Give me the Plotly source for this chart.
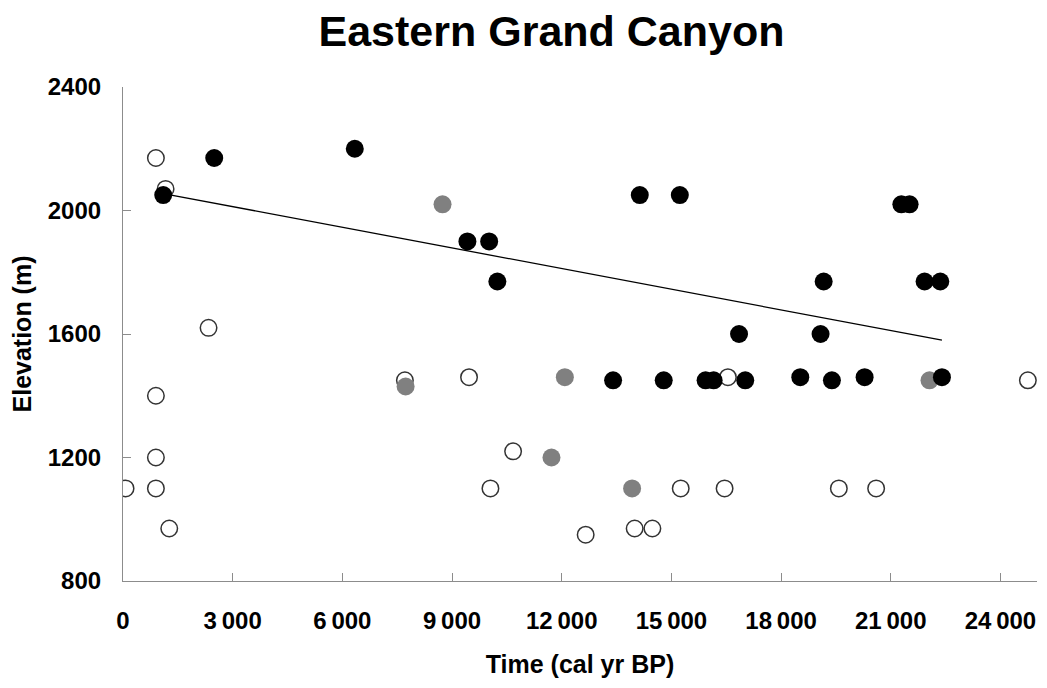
import plotly.graph_objects as go

# Open (white) circles
open_x = [70, 900, 1165, 900, 900, 900, 1265, 2340, 7710, 9465, 10670, 10050, 12655, 13995, 14480, 15255, 16455, 16545, 19580, 20600, 24750]
open_y = [1100, 2170, 2070, 1400, 1200, 1100, 970, 1620, 1450, 1460, 1220, 1100, 950, 970, 970, 1100, 1100, 1460, 1100, 1100, 1450]

# Grey filled circles
gray_x = [7730, 8740, 11720, 12085, 13925, 22060]
gray_y = [1430, 2020, 1200, 1460, 1100, 1450]

# Black filled circles
black_x = [1100, 2495, 6340, 9420, 10015, 10240, 13405, 14135, 14790, 15230, 15935, 16155, 16850, 17020, 18525, 19080, 19165, 19390, 20285, 21290, 21515, 21925, 22355, 22400]
black_y = [2050, 2170, 2200, 1900, 1900, 1770, 1450, 2050, 1450, 2050, 1450, 1450, 1600, 1450, 1460, 1600, 1770, 1450, 1460, 2020, 2020, 1770, 1770, 1460]

# Linear trend line (end points)
trend_x = [1100, 22400]
trend_y = [2055, 1580]

x_ticks = [0, 3000, 6000, 9000, 12000, 15000, 18000, 21000, 24000]
x_ticklabels = ["0", "3\u2009000", "6\u2009000", "9\u2009000", "12\u2009000", "15\u2009000", "18\u2009000", "21\u2009000", "24\u2009000"]
y_ticks = [800, 1200, 1600, 2000, 2400]

FONT = "Liberation Sans, Arial, sans-serif"

fig = go.Figure()
fig.add_trace(go.Scatter(x=trend_x, y=trend_y, mode="lines",
                         line=dict(color="black", width=1.3), showlegend=False, hoverinfo="skip"))
fig.add_trace(go.Scatter(x=open_x, y=open_y, mode="markers",
                         marker=dict(size=16.5, color="white", line=dict(color="#333333", width=1.5)),
                         showlegend=False))
fig.add_trace(go.Scatter(x=gray_x, y=gray_y, mode="markers",
                         marker=dict(size=18, color="#808080", line=dict(width=0)),
                         showlegend=False))
fig.add_trace(go.Scatter(x=black_x, y=black_y, mode="markers",
                         marker=dict(size=18, color="black", line=dict(width=0)),
                         showlegend=False))

fig.update_layout(
    width=1047, height=688,
    paper_bgcolor="white", plot_bgcolor="white",
    margin=dict(l=123, r=10, t=87, b=107),
    font=dict(family=FONT, color="black"),
    title=dict(text="<b>Eastern Grand Canyon</b>", x=551.5 / 1047, xanchor="center",
               xref="container", y=1 - 31 / 688, yanchor="middle", yref="container",
               font=dict(size=43, family=FONT, color="black")),
)
fig.update_xaxes(
    range=[0, 25000], tickvals=x_ticks, ticktext=[f"<b>{t}</b>" for t in x_ticklabels],
    showgrid=False, zeroline=False, showline=True, linecolor="#8c8c8c", linewidth=1.2,
    ticks="inside", ticklen=8, tickcolor="#8c8c8c", tickwidth=1, automargin=False,
    tickfont=dict(size=24, family=FONT, color="black"), ticklabelstandoff=18,
    title=dict(text="<b>Time (cal yr BP)</b>", font=dict(size=25, family=FONT, color="black"), standoff=22),
)
fig.update_yaxes(
    range=[800, 2400], tickvals=y_ticks, ticktext=[f"<b>{t}</b>" for t in y_ticks],
    showgrid=False, zeroline=False, showline=True, linecolor="#8c8c8c", linewidth=1.2,
    ticks="inside", ticklen=8, tickcolor="#8c8c8c", tickwidth=1, automargin=False,
    tickfont=dict(size=24, family=FONT, color="black"), ticklabelstandoff=16,
    title=dict(text="<b>Elevation (m)</b>", font=dict(size=25, family=FONT, color="black"), standoff=8),
)

fig.write_html("out.html", config={"displayModeBar": False},
               post_script="document.body.style.margin='0';document.body.style.overflow='hidden';")
